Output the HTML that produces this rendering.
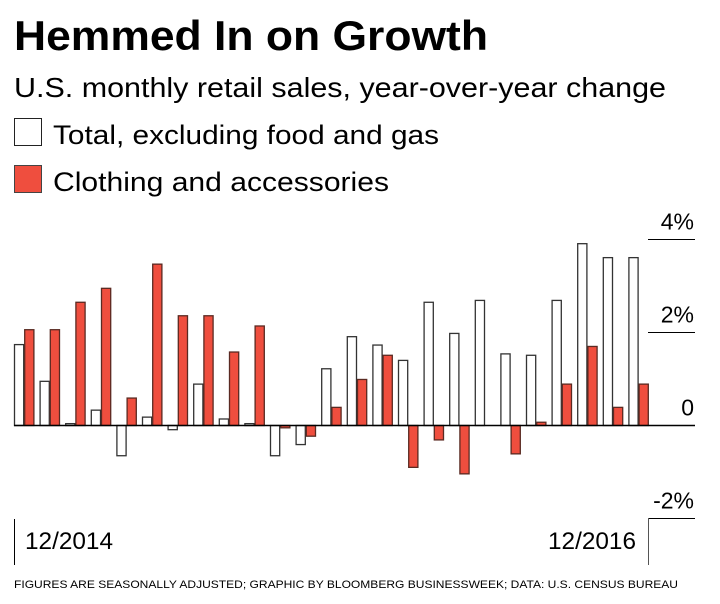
<!DOCTYPE html>
<html><head><meta charset="utf-8"><style>
html,body{margin:0;padding:0;background:#fff;}
svg{display:block;font-family:"Liberation Sans",sans-serif;}
</style></head><body>
<svg id="chart" width="720" height="604" viewBox="0 0 720 604">
<text x="14" y="50" font-size="42" font-weight="bold" textLength="474" lengthAdjust="spacingAndGlyphs">Hemmed In on Growth</text>
<text x="14" y="97" font-size="28" textLength="652" lengthAdjust="spacingAndGlyphs">U.S. monthly retail sales, year-over-year change</text>
<g>
<rect x="14.5" y="118.5" width="27" height="27" fill="#fff" stroke="#222" stroke-width="1"/>
<text x="53" y="144" font-size="27" textLength="386" lengthAdjust="spacingAndGlyphs">Total, excluding food and gas</text>
</g>
<g>
<rect x="14.5" y="165.5" width="27" height="27" fill="#ef4e3e" stroke="#444" stroke-width="1"/>
<text x="53" y="191" font-size="27" textLength="336" lengthAdjust="spacingAndGlyphs">Clothing and accessories</text>
</g>
<g id="grid"></g>
<g id="bars"></g>
<line x1="14" y1="425.5" x2="695" y2="425.5" stroke="#000" stroke-width="1.5"/>
<line x1="14.5" y1="519" x2="14.5" y2="565" stroke="#000"/>
<line x1="648.5" y1="518" x2="648.5" y2="565" stroke="#555"/>
<text x="25" y="549" font-size="24" textLength="88" lengthAdjust="spacingAndGlyphs">12/2014</text>
<text x="636" y="549" font-size="24" text-anchor="end" textLength="88" lengthAdjust="spacingAndGlyphs">12/2016</text>
<text x="14" y="588" font-size="11" textLength="664" lengthAdjust="spacingAndGlyphs">FIGURES ARE SEASONALLY ADJUSTED; GRAPHIC BY BLOOMBERG BUSINESSWEEK; DATA: U.S. CENSUS BUREAU</text>
</svg>
<script>
const months = Array.from({length:25},(_,i)=>i);
const totalValues = [1.74,0.95,0.04,0.33,-0.65,0.18,-0.09,0.89,0.14,0.04,-0.65,-0.41,1.22,1.91,1.73,1.40,2.65,1.98,2.69,1.54,1.51,2.69,3.91,3.61,3.61];
const clothingValues = [2.06,2.06,2.65,2.95,0.59,3.47,2.36,2.36,1.58,2.14,-0.05,-0.23,0.39,0.99,1.51,-0.90,-0.31,-1.04,0,-0.61,0.07,0.89,1.70,0.39,0.89];
const yTicks = [4,2,0,-2];
const yTickLabels = ['4%','2%','0','-2%'];
const NS='http://www.w3.org/2000/svg';
const y = v => 425.5 - v*46.5;
const x = i => 14 + i*25.6;
const bw = 10.2;
const grid=document.getElementById('grid');
yTicks.forEach((t,k)=>{
  if(t!==0){
    const l=document.createElementNS(NS,'line');
    l.setAttribute('x1',648);l.setAttribute('x2',695);
    l.setAttribute('y1',y(t));l.setAttribute('y2',y(t));
    l.setAttribute('stroke','#000');
    
    
    grid.appendChild(l);
  }
  const tx=document.createElementNS(NS,'text');
  tx.setAttribute('x',694);tx.setAttribute('y',y(t)-10);
  tx.setAttribute('text-anchor','end');tx.setAttribute('font-size','23');
  tx.textContent=yTickLabels[k];
  
  
  grid.appendChild(tx);
});
const bars=document.getElementById('bars');
function bar(i,v,off,fill,stroke,name){
  if(v===0) return;
  const r=document.createElementNS(NS,'rect');
  const top=Math.min(y(v),y(0)), h=Math.max(Math.abs(y(v)-y(0)),1);
  r.setAttribute('x',x(i)+off+0.5);r.setAttribute('y',top);
  r.setAttribute('width',bw-1);r.setAttribute('height',h);
  r.setAttribute('fill',fill);r.setAttribute('stroke',stroke);r.setAttribute('stroke-width','1.3');
  
  
  bars.appendChild(r);
}
months.forEach(i=>{
  bar(i,totalValues[i],0,'#fff','#333','bar-total');
  bar(i,clothingValues[i],bw,'#ef4e3e','#5a2a22','bar-clothing');
});
</script>
</body></html>
